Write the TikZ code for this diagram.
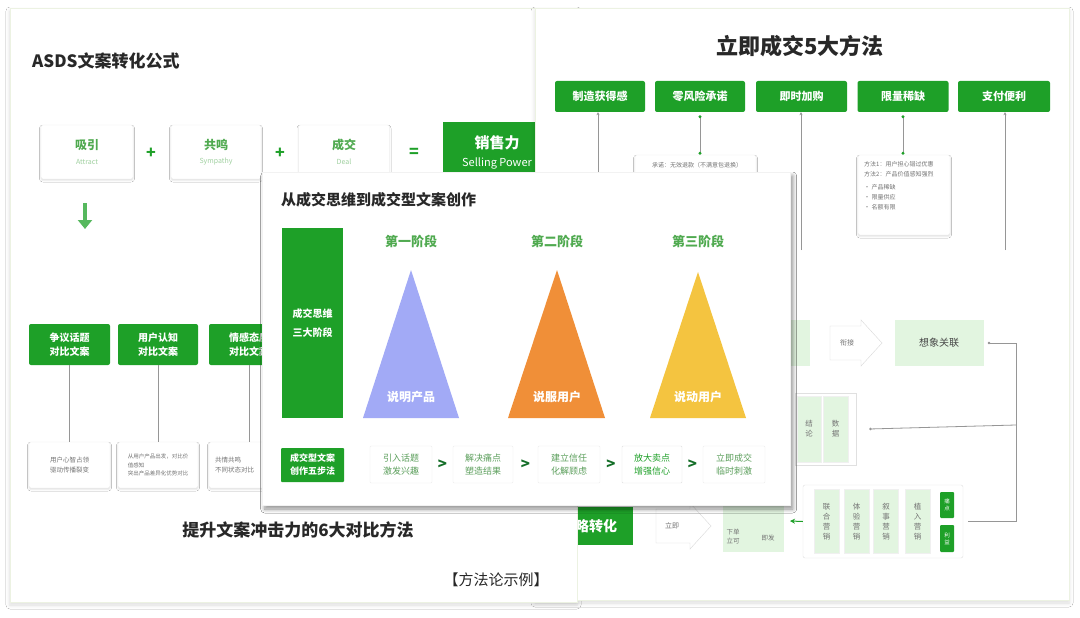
\documentclass[tikz,border=0pt]{standalone}
\usepackage{fontspec}
\setmainfont{Noto Sans CJK SC}
\usetikzlibrary{shadows.blur,arrows.meta}
\definecolor{gm}{RGB}{30,160,40}
\definecolor{gd}{RGB}{20,110,40}
\definecolor{gt}{RGB}{80,170,80}
\definecolor{lg}{RGB}{226,245,224}
\definecolor{tx}{RGB}{40,40,40}
\definecolor{gy}{RGB}{115,115,115}
\definecolor{tb}{RGB}{162,170,246}
\definecolor{to}{RGB}{240,143,56}
\definecolor{ty}{RGB}{244,196,64}
\definecolor{ln}{RGB}{150,150,150}
\definecolor{pb}{RGB}{236,242,226}
\newcommand\fz[2]{\fontsize{#1}{#2}\selectfont}
\begin{document}
\begin{tikzpicture}[x=1pt,y=-1pt,
 panel/.style={fill=white, draw=pb, blur shadow={shadow blur steps=6, shadow xshift=0pt, shadow yshift=-3pt, shadow opacity=14, shadow blur radius=4pt}},
 gbox/.style={fill=gm, text=white, rounded corners=2pt, inner sep=0pt, align=center},
 wbox/.style={fill=white, draw=black!9, rounded corners=2pt, inner sep=0pt, align=center, blur shadow={shadow blur steps=3, shadow xshift=0pt, shadow yshift=-1.5pt, shadow opacity=12, shadow blur radius=1.5pt}},
 lbox/.style={fill=lg, inner sep=0pt, align=center, text=gy},
 stepb/.style={fill=white, draw=black!7, rounded corners=1pt, inner sep=0pt, align=center, text=gt!75!gray, font=\fz{9}{13}},
 vcol/.style={fill=lg, draw=black!6, inner sep=0pt, align=center, text=gy, font=\fz{7.5}{10}},
 conn/.style={draw=ln, line width=0.8pt},
 chev/.style={font=\fz{15}{15}\bfseries, text=gd, inner sep=0pt},
 ]
\useasboundingbox (0,0) rectangle (1080,618);
\fill[white] (0,0) rectangle (1080,618);

% ================= LEFT PANEL =================
\path[panel] (10,8) rectangle (577,602);
\node[font=\fz{17}{20}\bfseries, text=tx, anchor=west, inner sep=0pt] (asds) at (32,61) {ASDS文案转化公式};

\node[wbox, minimum width=92, minimum height=54] (att) at (87,152) {};
\node[text=gt, font=\fz{12}{14}\bfseries] (attA) at (87,145) {吸引};
\node[text=gt!55, font=\fz{7}{8}] (attB) at (87,162) {Attract};
\node[text=gm, font=\fz{16}{16}\bfseries] (p1) at (151,153) {+};
\node[wbox, minimum width=90, minimum height=54] (sym) at (216,152) {};
\node[text=gt, font=\fz{12}{14}\bfseries] (symA) at (216,145) {共鸣};
\node[text=gt!55, font=\fz{7}{8}] (symB) at (216,162) {Sympathy};
\node[text=gm, font=\fz{16}{16}\bfseries] (p2) at (280,153) {+};
\node[wbox, minimum width=91, minimum height=54] (deal) at (344,152) {};
\node[text=gt, font=\fz{12}{14}\bfseries] (dealA) at (344,145) {成交};
\node[text=gt!55, font=\fz{7}{8}] (dealB) at (344,162) {Deal};
\node[text=gm, font=\fz{16}{16}\bfseries] (eq) at (414,153) {=};
\node[gbox, rounded corners=0pt, minimum width=108, minimum height=57] (sp) at (497,150.5) {};
\node[text=white, font=\fz{15}{17}\bfseries] (spA) at (497,143) {销售力};
\node[text=white, font=\fz{11}{12}] (spB) at (497,163) {Selling Power};

\coordinate (da1) at (85,203);
\coordinate (da2) at (85,229);
\draw[gm!75, line width=3.5pt, -{Triangle[width=14pt,length=9pt]}] (da1) -- (da2);

\node[gbox, minimum width=81, minimum height=41, font=\fz{10}{14}\bfseries] (g1) at (69.5,344.5) {争议话题\\对比文案};
\node[gbox, minimum width=80, minimum height=41, font=\fz{10}{14}\bfseries] (g2) at (158,344.5) {用户认知\\对比文案};
\node[gbox, minimum width=80, minimum height=41, font=\fz{10}{14}\bfseries] (g3) at (249,344.5) {情感态度\\对比文案};
\node[wbox, minimum width=81, minimum height=46, font=\fz{6.5}{10}, text=gy] (s1) at (69.5,465) {用户心智占领\\驱动传播裂变};
\node[wbox, minimum width=80, minimum height=46, font=\fz{5.5}{8.5}, text=gy, align=left] (s2) at (158,465) {从用户产品出发，对比价\\值感知\\突出产品差异化优势对比};
\node[wbox, minimum width=80, minimum height=46] (s3) at (249,465) {};
\node[font=\fz{6.5}{10}, text=gy, anchor=west, align=left, inner sep=0pt] (s3t) at (215,465) {共情共鸣\\不同状态对比};
\draw[conn] (g1.south) -- (s1.north);
\draw[conn] (g2.south) -- (s2.north);
\draw[conn] (g3.south) -- (s3.north);
\node[font=\fz{17}{20}\bfseries, text=tx] (t6) at (298,530) {提升文案冲击力的6大对比方法};

% ================= RIGHT PANEL =================
\path[panel] (535,8) rectangle (1069,600);
\node[font=\fz{22}{24}\bfseries, text=tx] (t5) at (800,46) {立即成交5大方法};
\node[gbox, minimum width=90, minimum height=31, font=\fz{11}{12}\bfseries] (r1) at (600,96.5) {制造获得感};
\node[gbox, minimum width=90, minimum height=31, font=\fz{11}{12}\bfseries] (r2) at (700,96.5) {零风险承诺};
\node[gbox, minimum width=91, minimum height=31, font=\fz{11}{12}\bfseries] (r3) at (801.5,96.5) {即时加购};
\node[gbox, minimum width=91, minimum height=31, font=\fz{11}{12}\bfseries] (r4) at (903,96.5) {限量稀缺};
\node[gbox, minimum width=92, minimum height=31, font=\fz{11}{12}\bfseries] (r5) at (1004,96.5) {支付便利};

\coordinate (c1) at (598,250);
\coordinate (c3) at (801,250);
\coordinate (c5) at (1005,250);
\draw[conn, -{Stealth[length=3pt,width=3pt]}] (c1) -- (c1 |- r1.south);
\draw[conn, -{Stealth[length=3pt,width=3pt]}] (c3) -- (c3 |- r3.south);
\draw[conn, -{Stealth[length=3pt,width=3pt]}] (c5) -- (c5 |- r5.south);

\node[wbox, minimum width=121, minimum height=30] (n2) at (695.5,170) {};
\node[font=\fz{6}{8}, text=gy, inner sep=0pt] (n2t) at (697,165) {承诺：无效退款（不满意包退换）};
\draw[conn, {Circle[length=3pt,color=gm]}-{Circle[length=3pt,color=gm]}] (r2.south) ++(0,3) -- (n2.north -| r2.south);

\node[wbox, minimum width=92, minimum height=80] (n4) at (904,195) {};
\node[font=\fz{6}{10}, text=gy, align=left, anchor=north west, inner sep=0pt] (n4t) at (864,161) {方法1：用户担心错过优惠\\方法2：产品价值感知强烈\\[3pt]• 产品稀缺\\• 限量供应\\• 名额有限};
\draw[conn, {Circle[length=3pt,color=gm]}-{Circle[length=3pt,color=gm]}] (r4.south) ++(0,3) -- (n4.north -| r4.south);

% lower flow
\node[lbox, minimum width=70, minimum height=46] (lb1) at (774.5,343) {};
\draw[black!15, fill=white] (830,326) -- (861,326) -- (861,320) -- (882,343) -- (861,366) -- (861,360) -- (830,360) -- cycle;
\node[font=\fz{7}{8}, text=gy] (xj) at (847,343) {衔接};
\node[lbox, minimum width=89, minimum height=46, text=tx!85, font=\fz{10}{12}] (xg) at (939,343) {想象关联};

\node[fill=white, draw=black!12, minimum width=61, minimum height=72, inner sep=0pt] (vb) at (825.5,429) {};
\node[vcol, minimum width=24, minimum height=66] (vc1) at (809,429) {结\\论};
\node[vcol, minimum width=25, minimum height=66] (vc2) at (835.5,429) {数\\据};

\node[fill=white, draw=black!12, rounded corners=2pt, minimum width=160, minimum height=73, inner sep=0pt] (bg) at (883,521.5) {};
\node[vcol, minimum width=25, minimum height=64] (bc1) at (826.5,521.5) {联\\合\\营\\销};
\node[vcol, minimum width=25, minimum height=64] (bc2) at (856.5,521.5) {体\\验\\营\\销};
\node[vcol, minimum width=25, minimum height=64] (bc3) at (886,521.5) {叙\\事\\营\\销};
\node[vcol, minimum width=25, minimum height=64] (bc4) at (917.5,521.5) {植\\入\\营\\销};
\node[gbox, rounded corners=1pt, minimum width=14, minimum height=26, font=\fz{5.5}{7}] (tg1) at (947,505) {痛\\点};
\node[gbox, rounded corners=1pt, minimum width=14, minimum height=27, font=\fz{5.5}{7}] (tg2) at (947,538.5) {利\\益};

\coordinate (j1) at (1016,343);
\coordinate (j2) at (1016,425);
\coordinate (dotc) at (790,521);
\draw[conn, {Circle[length=2.5pt]}-] ([xshift=4pt]xg.east) -- (j1) |- ([xshift=5pt]bg.east);
\draw[conn, -{Circle[length=2.5pt]}] (j2) -- ([xshift=13pt]vb.east);
\draw[gm, line width=1pt, -{Stealth[length=5pt,width=5pt]}] (bg.west) -- (dotc);

\node[gbox, rounded corners=0pt, minimum width=88, minimum height=38, font=\fz{14}{16}\bfseries] (zh) at (589,526) {策略转化};
\draw[black!15, fill=white] (656,509) -- (690,509) -- (690,503) -- (711,526) -- (690,549) -- (690,543) -- (656,543) -- cycle;
\node[font=\fz{7}{8}, text=gy] (lj) at (672,526) {立即};
\node[lbox, minimum width=61, minimum height=52] (lb2) at (753.5,526) {};
\node[font=\fz{6.5}{9}, text=gy, align=center] (xd) at (733,537) {下单\\立可};
\node[font=\fz{6.5}{9}, text=gy] (jf) at (768,538) {即发};

% left panel bottom overlap
\fill[white] (528,505) rectangle (577,602);
\draw[pb] (577,505) -- (577,602) -- (528,602);
\node[font=\fz{15}{17}, text=tx] (ff) at (496,580) {【方法论示例】};

% ================= MIDDLE PANEL =================
\path[panel, draw=black!5, blur shadow={shadow yshift=-4pt, shadow opacity=24}] (262,172) rectangle (790,505);
\node[font=\fz{15}{17}\bfseries, text=tx, anchor=west, inner sep=0pt] (mt) at (281,200) {从成交思维到成交型文案创作};
\node[gbox, rounded corners=0pt, minimum width=61, minimum height=190, font=\fz{10}{19}\bfseries] (bar) at (312.5,323) {成交思维\\三大阶段};
\node[text=gt, font=\fz{13}{15}\bfseries] (st1) at (411,241) {第一阶段};
\node[text=gt, font=\fz{13}{15}\bfseries] (st2) at (557,241) {第二阶段};
\node[text=gt, font=\fz{13}{15}\bfseries] (st3) at (698,241) {第三阶段};
\fill[tb] (411,270) -- (459,418) -- (363,418) -- cycle;
\fill[to] (557,270) -- (605,418) -- (508,418) -- cycle;
\fill[ty] (698,272) -- (746,418) -- (650,418) -- cycle;
\node[text=white, font=\fz{12}{14}\bfseries] (tt1) at (411,397) {说明产品};
\node[text=white, font=\fz{12}{14}\bfseries] (tt2) at (557,397) {说服用户};
\node[text=white, font=\fz{12}{14}\bfseries] (tt3) at (698,397) {说动用户};

\node[gbox, rounded corners=1pt, minimum width=63, minimum height=34, font=\fz{9}{13}\bfseries] (five) at (312.5,465) {成交型文案\\创作五步法};
\node[stepb, minimum width=62, minimum height=37] (k1) at (401,464.5) {引入话题\\激发兴趣};
\node[stepb, minimum width=60, minimum height=37] (k2) at (483,464.5) {解决痛点\\塑造结果};
\node[stepb, minimum width=62, minimum height=37] (k3) at (569,464.5) {建立信任\\化解顾虑};
\node[stepb, minimum width=60, minimum height=37, draw=black!12, text=gm] (k4) at (652,464.5) {放大卖点\\增强信心};
\node[stepb, minimum width=62, minimum height=37] (k5) at (734,464.5) {立即成交\\临时刺激};
\path (k1.east) -- node[chev] (a1) {>} (k2.west);
\path (k2.east) -- node[chev] (a2) {>} (k3.west);
\path (k3.east) -- node[chev] (a3) {>} (k4.west);
\path (k4.east) -- node[chev] (a4) {>} (k5.west);
\end{tikzpicture}
\end{document}
